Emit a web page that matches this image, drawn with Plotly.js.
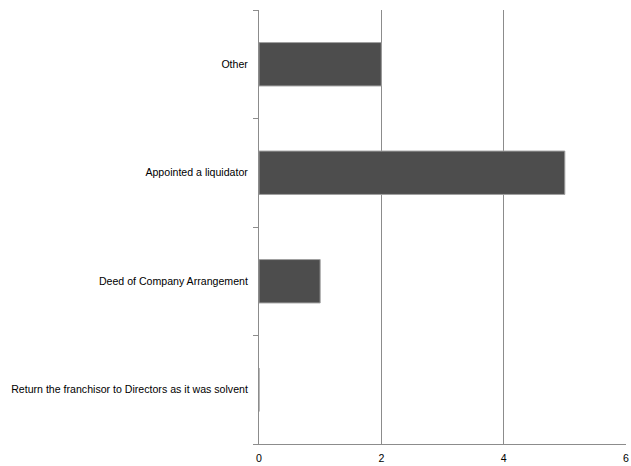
<!DOCTYPE html>
<html><head><meta charset="utf-8">
<script src="https://cdn.plot.ly/plotly-3.0.1.min.js"></script>
<style>body{margin:0;background:#fff}#chart{width:631px;height:466px}</style>
</head><body><div id="chart"></div>
<script>
const categories = ["Return the franchisor to Directors as it was solvent", "Deed of Company Arrangement", "Appointed a liquidator", "Other"];
const values = [0, 1, 5, 2];
const xTicks = [0, 2, 4, 6];

const trace = {
  type: 'bar', orientation: 'h', x: values, y: categories,
  width: 0.4,
  marker: {color: '#4d4d4d', line: {color: '#a0a0a0', width: 1}},
  hoverinfo: 'x+y'
};
const layout = {
  width: 631, height: 466,
  margin: {l: 259, r: 5, t: 10, b: 22},
  paper_bgcolor: '#fff', plot_bgcolor: '#fff',
  showlegend: false,
  font: {family: 'Liberation Sans, Arial, sans-serif', size: 10.6, color: '#000'},
  xaxis: {
    range: [0, 6], tickvals: xTicks, ticktext: xTicks.map(String),
    showgrid: true, gridcolor: '#8c8c8c', gridwidth: 1,
    zeroline: false, showline: true, linecolor: '#8c8c8c', linewidth: 1,
    ticks: '', fixedrange: true, ticklabelstandoff: 4
  },
  yaxis: {
    type: 'category', range: [-0.5, 3.5], tickson: 'boundaries',
    ticks: 'outside', ticklen: 5, tickcolor: '#8c8c8c',
    showline: true, linecolor: '#8c8c8c', linewidth: 1,
    showgrid: false, zeroline: false, ticklabelstandoff: 8
  },
  bargap: 0.6
};
Plotly.newPlot('chart', [trace], layout, {displayModeBar: false, staticPlot: true});
</script></body></html>
